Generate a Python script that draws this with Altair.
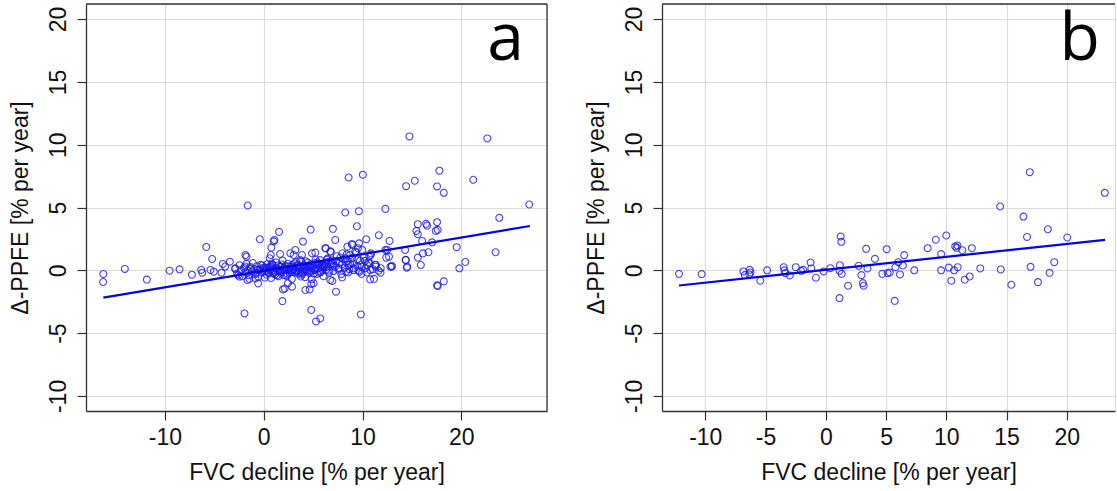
import altair as alt
import pandas as pd

FONT = "Liberation Sans"
BOX = "#333333"
H = 407

# ---------------- data ----------------
a_points = [
    (-16.23, -0.29), (-16.26, -0.93), (-14.06, 0.11), (-11.83, -0.74), (-9.53, -0.03),
    (-8.52, 0.08), (-7.27, -0.35), (-6.33, 0.03), (-6.23, -0.19), (-5.82, 1.86),
    (-5.39, 0.03), (-5.22, 0.90), (-5.05, -0.11), (-4.28, -0.19), (-4.14, 0.51),
    (-3.90, 0.30), (-3.43, 0.69), (-2.88, 0.16), (-2.59, -0.40), (-2.45, -0.50),
    (-1.95, -3.43), (-1.62, 5.16), (-1.85, 1.22), (-1.75, 1.09), (-1.65, -0.77),
    (-1.45, -0.69), (-0.84, -0.64), (-0.57, -1.04), (-0.40, 2.47), (0.61, 0.96),
    (0.71, 1.22), (0.77, 1.81), (1.01, 2.31), (1.08, 2.42), (1.55, 3.06),
    (1.66, 1.30), (1.89, -2.45), (1.95, -1.52), (2.12, -1.44), (2.86, -1.30),
    (2.45, -1.03), (2.69, 1.36), (3.03, 1.22), (3.20, 1.62), (3.70, 0.82),
    (3.87, 1.22), (3.97, 2.29), (4.21, -1.57), (4.65, -1.52), (4.81, -1.09),
    (5.05, -1.03), (4.81, -3.16), (5.29, -4.07), (5.72, -3.83), (4.75, 3.24),
    (4.88, 1.36), (5.22, 1.41), (6.23, 1.76), (6.73, 1.49), (6.73, -0.77),
    (6.94, -0.85), (7.00, 3.30), (7.24, 2.42), (7.31, -1.70), (7.93, -0.56),
    (8.35, -0.11), (8.25, 0.96), (8.75, 1.22), (8.59, 0.43), (8.92, 2.10),
    (9.26, 1.49), (9.53, 1.76), (9.09, 0.16), (9.60, -0.03), (9.43, 3.51),
    (8.25, 4.60), (9.63, 4.71), (8.59, 7.39), (10.03, 7.61), (9.83, -3.51),
    (9.93, 0.29), (10.44, 0.43), (10.77, 0.03), (10.44, -0.16), (9.70, -0.11),
    (10.37, 2.47), (10.82, 1.22), (10.77, -0.72), (11.28, 0.43), (11.62, -0.03),
    (11.82, -0.19), (11.65, 2.79), (12.32, 4.89), (12.32, 1.62), (12.39, 1.01),
    (12.73, 2.34), (12.83, 0.29), (12.96, 0.35), (14.31, 1.62), (14.38, 0.82),
    (14.48, 0.21), (14.41, 6.70), (14.75, 10.66), (15.29, 7.13), (15.45, 3.14),
    (15.59, 2.87), (15.59, 3.67), (15.59, 1.01), (15.90, 0.42), (16.03, 2.34),
    (16.43, 3.70), (16.53, 3.56), (16.67, 1.44), (17.04, 2.23), (17.41, 3.14),
    (17.61, 3.22), (17.54, 3.83), (17.54, 6.68), (17.78, 7.93), (18.22, 6.17),
    (17.54, -1.20), (17.61, -1.25), (18.22, -0.88), (19.53, 1.84), (19.80, 0.16),
    (20.40, 0.66), (21.21, 7.21), (22.63, 10.50), (23.47, 1.44), (23.84, 4.18),
    (26.87, 5.24), (6.28, 1.75), (6.79, 1.49), (7.96, 1.36), (8.47, 1.88),
    (8.97, 2.02), (9.65, 2.15), (9.98, 1.62), (10.66, 1.09), (11.33, 0.29),
    (11.84, 0.17), (12.68, 1.09), (12.95, 0.29), (14.36, 0.83), (14.53, 0.29),
    (12.50, 1.62), (11.16, -0.68), (16.12, 1.35),
]

a_band_x = [-2.9, -2.7, -2.45, -2.3, -2.15, -2.0, -1.85, -1.75, -1.6, -1.5,
            -1.35, -1.2, -1.1, -0.95, -0.85, -0.7, -0.55, -0.45, -0.3, -0.2,
            -0.05, 0.1, 0.2, 0.35, 0.5, 0.6, 0.75, 0.85, 1.0, 1.15,
            1.25, 1.4, 1.5, 1.65, 1.8, 1.9, 2.05, 2.2, 2.3, 2.45,
            2.6, 2.7, 2.85, 3.0, 3.1, 3.25, 3.4, 3.5, 3.65, 3.8,
            3.9, 4.05, 4.2, 4.3, 4.45, 4.6, 4.7, 4.85, 5.0, 5.1,
            5.25, 5.4, 5.5, 5.65, 5.8, 5.9, 6.05, 6.2, 6.3, 6.45,
            6.6, 6.75, 6.9, 7.05, 7.2, 7.4, 7.55, 7.7, 7.85, 8.05,
            8.2, 8.4, 8.55, 8.75, 8.95, 9.1, 9.35, 9.5, 9.75, 9.9,
            10.15, 10.3, 10.6, 10.85, 11.05, 11.35,
            0.15, 0.45, 0.7, 0.95, 1.2, 1.45, 1.7, 1.95, 2.15, 2.4,
            2.65, 2.9, 3.15, 3.35, 3.6, 3.85, 4.1, 4.35, 4.55, 4.8,
            5.05, 5.3, 5.55, 5.75, 6.0, 6.25, -0.35, -0.8, -1.3, -1.9,
            0.3, 0.8, 1.35, 1.85, 2.35, 2.8, 3.3, 3.75, 4.25, 4.75,
            5.2, 5.7, 6.15, 6.5,
            -0.6, -0.15, 0.25, 0.55, 0.9, 1.1, 1.55, 1.75, 2.0, 2.25,
            2.5, 2.75, 2.95, 3.2, 3.45, 3.7, 3.95, 4.15, 4.4, 4.65,
            4.9, 5.15, 5.35, 5.6, 5.85, 6.1, 6.35, 6.6, 6.85, 7.1,
            7.35, 7.6, 7.9, 8.3, 8.65, 9.05, 9.45, 9.85, 10.25, 10.7,
            0.05, 0.65, 1.05, 1.6, 2.1, 2.55, 3.05, 3.55, 4.0, 4.5,
            5.45, 5.95, 6.4, 7.0, 7.75, 8.5]
a_band_y = [0.12, -0.28, 0.41, 0.02, -0.47, 0.18, -0.15, 0.52, -0.02, -0.38,
            0.27, -0.08, 0.58, 0.09, -0.31, 0.33, -0.52, 0.03, 0.44, -0.17,
            0.21, -0.58, 0.14, 0.49, -0.22, 0.26, -0.61, 0.38, 0.01, -0.33,
            0.63, 0.11, -0.47, 0.32, -0.09, 0.78, 0.19, -0.41, 0.04, 0.52,
            -0.18, 0.29, -0.68, 0.13, 0.57, -0.05, 0.36, -0.27, 0.19, 0.71,
            -0.12, 0.31, -0.54, 0.08, 0.62, -0.21, 0.24, -0.71, 0.42, 0.02,
            0.84, -0.29, 0.17, 0.53, -0.11, 0.35, -0.47, 0.61, 0.04, 0.93,
            -0.19, 0.46, 0.79, -0.06, 0.28, 1.12, 0.05, 0.63, -0.31, 0.88,
            0.21, 1.27, -0.16, 0.49, 0.97, 0.02, 1.41, 0.31, 0.77, -0.28,
            1.08, 0.18, 0.62, 1.35, 0.09, 0.44,
            0.22, -0.12, 0.31, -0.24, 0.17, 0.39, -0.19, 0.08, 0.35, -0.27,
            0.14, 0.42, -0.15, 0.25, 0.06, -0.34, 0.41, -0.07, 0.23, 0.49,
            -0.26, 0.12, 0.37, -0.14, 0.26, 0.51, 0.08, -0.21, 0.16, 0.31,
            -0.35, 0.55, -0.39, 0.47, -0.44, 0.02, 0.66, -0.49, 0.72, -0.02,
            0.58, 0.81, 0.33, 0.69,
            0.05, 0.38, -0.04, 0.19, 0.45, -0.15, 0.02, 0.28, -0.36, 0.07,
            0.33, -0.11, 0.24, -0.02, 0.45, 0.16, -0.23, 0.12, 0.37, -0.09,
            0.21, 0.05, 0.48, -0.18, 0.14, 0.39, 0.27, -0.03, 0.55, 0.36,
            0.72, 0.18, 0.47, 0.67, 0.09, 0.56, 0.86, 0.43, 0.74, 0.58,
            -0.08, 0.04, -0.16, -0.05, 0.12, 0.02, 0.08, -0.12, 0.15, 0.3,
            0.63, 0.45, 0.85, 0.52, 1.02, 0.74]

b_points = [
    (-12.18, -0.28), (-10.30, -0.30), (-6.84, -0.09), (-6.72, -0.38), (-6.31, 0.04),
    (-6.25, -0.17), (-6.34, -0.33), (-5.43, -0.83), (-4.87, 0.00), (-3.49, 0.25),
    (-3.43, 0.00), (-3.35, -0.22), (-2.99, -0.41), (-2.49, 0.25), (-2.05, -0.04),
    (-1.88, 0.04), (-1.26, 0.62), (-1.20, 0.15), (-0.82, -0.59), (-0.18, -0.09),
    (0.38, 0.17), (1.17, 0.41), (1.23, 2.69), (1.29, 2.27), (1.14, -0.04),
    (1.32, -0.28), (1.14, -2.21), (1.85, -1.23), (2.73, 0.36), (2.96, -0.38),
    (3.08, -1.02), (3.14, -1.23), (3.35, 1.71), (3.46, 0.15), (4.08, 0.91),
    (4.69, -0.28), (5.05, 1.68), (5.13, -0.22), (5.31, -0.17), (5.72, -2.43),
    (5.78, 0.25), (6.02, 0.65), (6.16, -0.33), (6.40, 0.38), (6.51, 1.21),
    (7.34, 0.00), (8.45, 1.76), (9.13, 2.43), (9.57, 1.29), (9.57, 0.00),
    (10.00, 2.77), (10.21, 0.22), (10.42, -0.83), (10.65, 0.00), (10.74, 1.90),
    (10.92, 1.98), (10.86, 1.79), (10.95, 0.25), (11.33, 1.60), (11.53, -0.75),
    (11.94, -0.49), (12.12, 1.76), (12.82, 0.15), (14.47, 5.08), (14.52, 0.07),
    (15.40, -1.15), (16.40, 4.28), (16.70, 2.66), (16.93, 7.81), (16.99, 0.28),
    (17.61, -0.94), (18.43, 3.27), (18.57, -0.20), (18.96, 0.65), (20.04, 2.61),
    (23.15, 6.17),
]

a_fit_x = [-16.23, 26.94]
a_fit_y = [-2.18, 3.53]
b_fit_x = [-12.18, 23.18]
b_fit_y = [-1.21, 2.43]

y_ticks = [-10, -5, 0, 5, 10, 15, 20]
a_x_ticks = [-10, 0, 10, 20]
b_x_ticks = [-10, -5, 0, 5, 10, 15, 20]
y_domain = [-11.2, 21.2]
a_x_domain = [-17.99, 28.67]
b_x_domain = [-13.59, 24.0]
letters = ["a", "b"]

X_TITLE = "FVC decline [% per year]"
Y_TITLE = "\u0394-PPFE [% per year]"


def panel(points, fit_x, fit_y, x_ticks, x_domain, width, letter, right_border):
    pts = pd.DataFrame(points, columns=["x", "y"])
    fit = pd.DataFrame({"x": fit_x, "y": fit_y})
    xs = alt.Scale(domain=x_domain, nice=False, zero=False)
    ys = alt.Scale(domain=y_domain, nice=False, zero=False)
    common = dict(
        labelExpr="'' + datum.value", grid=True, gridColor="#dcdcdc", gridWidth=1.2,
        domain=True, domainColor=BOX, domainWidth=1.3, ticks=True, tickColor=BOX,
        tickSize=9, tickWidth=1.2, labelFont=FONT, labelFontSize=23, labelColor="#111111",
        labelFlush=False, labelOverlap=False, titleFont=FONT, titleFontSize=23,
        titleFontWeight="normal", titleColor="#111111", titleBaseline="alphabetic",
    )
    xa = alt.Axis(values=x_ticks, title=X_TITLE, labelPadding=6, labelBaseline="top",
                  minExtent=40, maxExtent=40, titlePadding=28.5, **common)
    ya = alt.Axis(values=y_ticks, title=Y_TITLE, labelAngle=270, labelAlign="center",
                  labelBaseline="alphabetic", labelPadding=12, minExtent=50, maxExtent=50,
                  titleAngle=270, titlePadding=9, **common)

    points_layer = alt.Chart(pts).mark_point(
        shape="circle", filled=False, size=48, strokeWidth=1.1, color="#1a1aee", opacity=0.8
    ).encode(x=alt.X("x:Q", scale=xs, axis=xa), y=alt.Y("y:Q", scale=ys, axis=ya))

    line_layer = alt.Chart(fit).mark_line(color="#0000ee", strokeWidth=2.2).encode(
        x=alt.X("x:Q", scale=xs), y=alt.Y("y:Q", scale=ys)
    )

    letter_layer = alt.Chart(pd.DataFrame({"t": [letter]})).mark_text(
        font="Open Sans", fontSize=66, align="right", baseline="alphabetic", color="#000000"
    ).encode(text="t:N", x=alt.value(438), y=alt.value(56))

    one = pd.DataFrame({"v": [0]})
    top_rule = alt.Chart(one).mark_rule(color=BOX, strokeWidth=1.3).encode(
        x=alt.value(0), x2=alt.value(width), y=alt.value(0)
    )
    layers = [points_layer, line_layer, letter_layer, top_rule]
    if right_border:
        layers.append(alt.Chart(one).mark_rule(color=BOX, strokeWidth=1.3).encode(
            x=alt.value(width), y=alt.value(0), y2=alt.value(H)
        ))
    return alt.layer(*layers).properties(width=width, height=H)


pa = panel(a_points + list(zip(a_band_x, a_band_y)), a_fit_x, a_fit_y, a_x_ticks,
           a_x_domain, 461, letters[0], True)
pb = panel(b_points, b_fit_x, b_fit_y, b_x_ticks, b_x_domain, 453, letters[1], False)

chart = alt.hconcat(pa, pb, spacing=35).properties(
    padding={"left": 8, "top": 2, "right": 0, "bottom": 0}
).configure_view(stroke=None).configure(background="white")

chart.save("out.html", embed_options={"renderer": "svg", "actions": False})
